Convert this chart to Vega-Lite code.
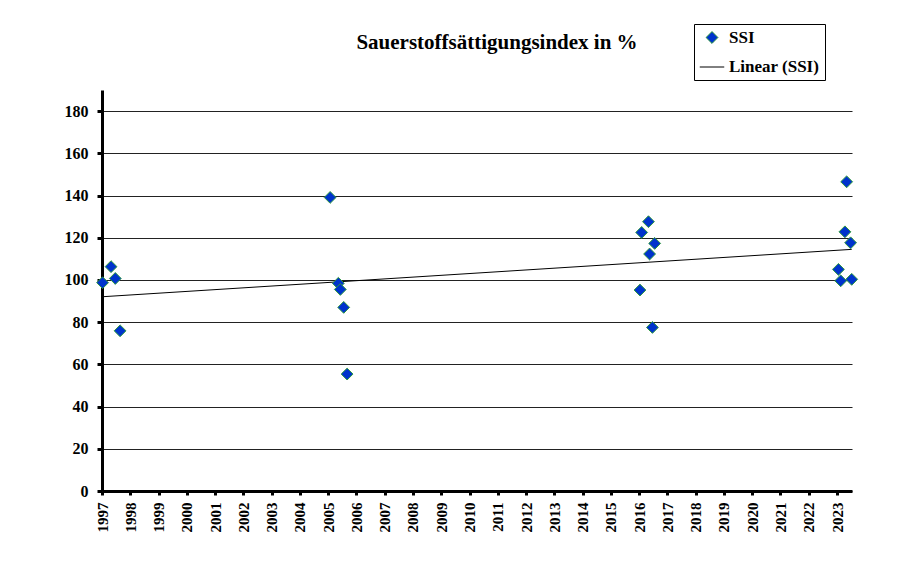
{
  "$schema": "https://vega.github.io/schema/vega-lite/v6.json",
  "autosize": "none",
  "width": 750,
  "height": 401,
  "padding": {"left": 102, "top": 90, "right": 49, "bottom": 96},
  "background": "white",
  "title": {
    "text": "Sauerstoffsättigungsindex in %",
    "font": "Liberation Serif",
    "fontSize": 21,
    "fontWeight": "bold",
    "color": "#000000",
    "anchor": "middle",
    "dx": 20,
    "offset": -29
  },
  "config": {
    "view": {"stroke": null},
    "axis": {"labelFont": "Liberation Serif", "labelFontWeight": "bold", "labelColor": "#000000"},
    "legend": {
      "orient": "none",
      "legendX": 592,
      "legendY": -66,
      "strokeColor": "#000000",
      "fillColor": "#ffffff",
      "padding": 5,
      "rowPadding": 8,
      "labelFont": "Liberation Serif",
      "labelFontWeight": "bold",
      "labelFontSize": 17,
      "labelColor": "#000000",
      "labelOffset": 4,
      "symbolStrokeWidth": 1,
      "symbolOpacity": 1
    }
  },
  "data": {
    "values": [
      {"year": 1997.02, "ssi": 98.7},
      {"year": 1997.32, "ssi": 106.3},
      {"year": 1997.47, "ssi": 100.7},
      {"year": 1997.64, "ssi": 75.9},
      {"year": 2005.07, "ssi": 139.1},
      {"year": 2005.36, "ssi": 98.4},
      {"year": 2005.43, "ssi": 95.5},
      {"year": 2005.55, "ssi": 87.0},
      {"year": 2005.67, "ssi": 55.4},
      {"year": 2016.03, "ssi": 95.2},
      {"year": 2016.09, "ssi": 122.5},
      {"year": 2016.33, "ssi": 127.6},
      {"year": 2016.37, "ssi": 112.3},
      {"year": 2016.47, "ssi": 77.5},
      {"year": 2016.55, "ssi": 117.3},
      {"year": 2023.05, "ssi": 105.0},
      {"year": 2023.13, "ssi": 99.6},
      {"year": 2023.28, "ssi": 122.8},
      {"year": 2023.34, "ssi": 146.5},
      {"year": 2023.48, "ssi": 117.6},
      {"year": 2023.52, "ssi": 100.3}
    ]
  },
  "encoding": {
    "x": {
      "field": "year",
      "type": "quantitative",
      "scale": {"domain": [1997, 2023.53], "nice": false, "zero": false},
      "axis": {
        "title": null,
        "values": [1997,1998,1999,2000,2001,2002,2003,2004,2005,2006,2007,2008,2009,2010,2011,2012,2013,2014,2015,2016,2017,2018,2019,2020,2021,2022,2023],
        "format": "d",
        "labelAngle": 270,
        "labelFontSize": 15,
        "labelPadding": 7,
        "grid": false,
        "domainColor": "#000000",
        "domainWidth": 3,
        "tickColor": "#000000",
        "tickWidth": 3,
        "tickSize": 4,
        "labelOverlap": false
      }
    },
    "y": {
      "field": "ssi",
      "type": "quantitative",
      "scale": {"domain": [0, 190], "nice": false},
      "axis": {
        "title": null,
        "values": [0,20,40,60,80,100,120,140,160,180],
        "labelFontSize": 16,
        "labelPadding": 9,
        "grid": true,
        "gridColor": "#222222",
        "gridWidth": 1,
        "domainColor": "#000000",
        "domainWidth": 3,
        "tickColor": "#000000",
        "tickWidth": 3,
        "tickSize": 5
      }
    }
  },
  "layer": [
    {
      "transform": [{"regression": "ssi", "on": "year", "method": "linear"}],
      "mark": {"type": "line", "strokeWidth": 1, "color": "#000000"},
      "encoding": {}
    },
    {
      "mark": {"type": "point", "filled": true, "strokeWidth": 1, "opacity": 1},
      "encoding": {
        "color": {
          "datum": "SSI",
          "scale": {"domain": ["SSI", "Linear (SSI)"], "range": ["#0033cc", "#000000"]},
          "legend": {"title": null}
        },
        "stroke": {
          "datum": "SSI",
          "scale": {"domain": ["SSI", "Linear (SSI)"], "range": ["#2e9a3e", "#000000"]},
          "legend": {"title": null}
        },
        "shape": {
          "datum": "SSI",
          "scale": {"domain": ["SSI", "Linear (SSI)"], "range": ["diamond", "stroke"]},
          "legend": {"title": null}
        },
        "size": {
          "datum": "SSI",
          "scale": {"type": "point", "padding": 0, "domain": ["SSI", "Linear (SSI)"], "range": [140, 600]},
          "legend": {"title": null}
        }
      }
    }
  ]
}
